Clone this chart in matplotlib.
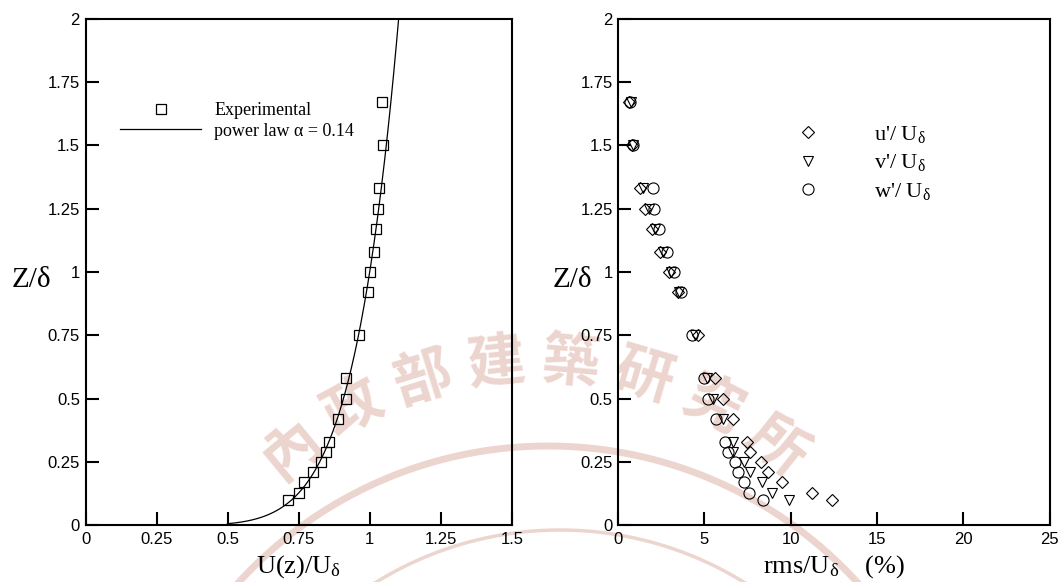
import matplotlib.pyplot as plt
import numpy as np

# heights above ground, normalised by boundary layer thickness
z = [0.10, 0.13, 0.17, 0.21, 0.25, 0.29, 0.33, 0.42, 0.50, 0.58,
     0.75, 0.92, 1.00, 1.08, 1.17, 1.25, 1.33, 1.50, 1.67]

# mean velocity U(z)/U_delta
u_mean = [0.714, 0.750, 0.770, 0.801, 0.828, 0.847, 0.857, 0.889, 0.915, 0.915,
          0.964, 0.995, 1.001, 1.016, 1.021, 1.030, 1.032, 1.047, 1.045]

# turbulence intensities (%)
u_rms = [12.40, 11.21, 9.51, 8.66, 8.27, 7.64, 7.48, 6.63, 6.05, 5.61,
         4.64, 3.48, 2.94, 2.42, 1.94, 1.55, 1.26, 0.82, 0.64]
v_rms = [9.88, 8.89, 8.31, 7.64, 7.31, 6.67, 6.63, 6.09, 5.51, 5.13,
         4.45, 3.54, 3.06, 2.61, 2.13, 1.80, 1.45, 0.86, 0.72]
w_rms = [8.37, 7.56, 7.29, 6.96, 6.77, 6.34, 6.19, 5.65, 5.18, 4.97,
         4.26, 3.62, 3.23, 2.85, 2.38, 2.07, 2.03, 0.86, 0.70]

alpha = 0.14

u_ticks = [0, 0.25, 0.5, 0.75, 1, 1.25, 1.5]
rms_ticks = [0, 5, 10, 15, 20, 25]
z_ticks = [0, 0.25, 0.5, 0.75, 1, 1.25, 1.5, 1.75, 2]

stamp_chars = ['內', '政', '部', '建', '築', '研', '究', '所']

plt.rcParams['font.family'] = 'Liberation Sans'
plt.rcParams['mathtext.fontset'] = 'custom'
plt.rcParams['mathtext.rm'] = 'Liberation Serif'
plt.rcParams['mathtext.it'] = 'Liberation Serif:italic'

serif = 'Liberation Serif'
ink = '#edd5cf'

fig = plt.figure(figsize=(10.6, 5.82), dpi=100)

# background seal
bg = fig.add_axes([0, 0, 1, 1], zorder=-1)
bg.set_xlim(0, 1060)
bg.set_ylim(582, 0)
bg.axis('off')
for k, ch in enumerate(stamp_chars):
    th = np.deg2rad(129.5 - k * 11.16)
    bg.text(536 + 384 * np.cos(th), 746 - 384 * np.sin(th), ch,
            rotation=np.rad2deg(th) - 90, fontsize=42, color=ink,
            fontweight='bold', ha='center', va='center',
            family='Noto Sans CJK TC')
t = np.linspace(0, np.pi, 300)
bg.plot(548 + 419 * np.cos(t), 865 - 419 * np.sin(t), color=ink, lw=5)
bg.plot(560 + 350 * np.cos(t), 880 - 350 * np.sin(t), color=ink, lw=2.5)


def style(ax, xticks, xlim):
    ax.set_facecolor('none')
    ax.set_xlim(*xlim)
    ax.set_ylim(0, 2)
    ax.set_xticks(xticks)
    ax.set_xticklabels([f'{v:g}' for v in xticks])
    ax.set_yticks(z_ticks)
    ax.set_yticklabels([f'{v:g}' for v in z_ticks])
    ax.tick_params(direction='in', length=9.5, width=1.5, labelsize=12,
                   top=False, right=False)
    ax.tick_params(axis='x', pad=5)
    ax.tick_params(axis='y', pad=4)
    for s in ax.spines.values():
        s.set_linewidth(1.5)


# mean velocity profile
ax1 = fig.add_axes([0.0807, 0.0971, 0.4021, 0.8711])
style(ax1, u_ticks, (0, 1.5))
zz = np.geomspace(0.007, 2, 400)
h_exp, = ax1.plot(u_mean, z, 's', mfc='none', mec='k', ms=7.8, mew=0.9,
                  label='Experimental')
h_law, = ax1.plot(zz ** alpha, zz, 'k-', lw=0.9,
                  label='power law α = 0.14')
ax1.legend(handles=[h_exp, h_law], loc='upper left',
           bbox_to_anchor=(0.081, 0.835), frameon=False, borderpad=0,
           borderaxespad=0, handlelength=4.5, handletextpad=0.72,
           labelspacing=0.2, numpoints=1, prop={'family': serif, 'size': 13})
ax1.set_xlabel(r'U(z)/U$_{\mathrm{\delta}}$', fontsize=19, family=serif,
               labelpad=4)
ax1.set_ylabel('Z/δ', rotation=0, fontsize=21, family=serif,
               ha='center', va='baseline')
ax1.yaxis.set_label_coords(-0.128, 0.470)

# turbulence intensity profiles
ax2 = fig.add_axes([0.5832, 0.0971, 0.4069, 0.8711])
style(ax2, rms_ticks, (0, 25))
hu, = ax2.plot(u_rms, z, 'D', mfc='none', mec='k', ms=6.0, mew=0.8,
               label=r"u'/ U$_{\mathrm{\delta}}$")
hv, = ax2.plot(v_rms, z, 'v', mfc='none', mec='k', ms=7.5, mew=0.8,
               label=r"v'/ U$_{\mathrm{\delta}}$")
hw, = ax2.plot(w_rms, z, 'o', mfc='none', mec='k', ms=8.0, mew=0.8,
               label=r"w'/ U$_{\mathrm{\delta}}$")
ax2.legend(handles=[hu, hv, hw], loc='upper left',
           bbox_to_anchor=(0.389, 0.792), frameon=False, borderpad=0,
           borderaxespad=0, handlelength=2.0, handletextpad=1.94,
           labelspacing=0.33, numpoints=1, prop={'family': serif, 'size': 16})
ax2.set_xlabel(r'rms/U$_{\mathrm{\delta}}$    (%)', fontsize=19, family=serif,
               labelpad=4)
ax2.set_ylabel('Z/δ', rotation=0, fontsize=21, family=serif,
               ha='center', va='baseline')
ax2.yaxis.set_label_coords(-0.106, 0.470)

fig.savefig('out.png', dpi=100)
